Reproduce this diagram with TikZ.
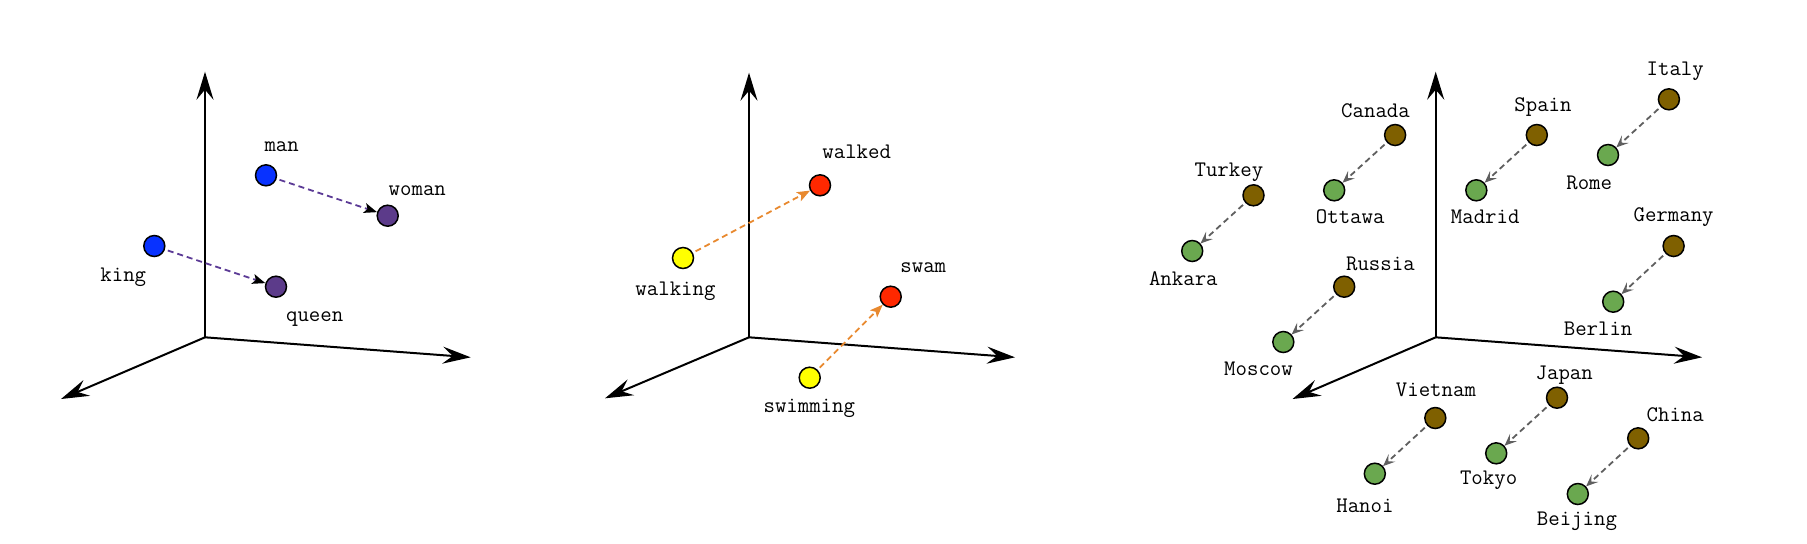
\documentclass[tikz,border=0pt]{standalone}
\usepackage{fontspec}
\usepackage{tikz}
\usetikzlibrary{arrows.meta}

\definecolor{kingblue}{RGB}{8,50,255}
\definecolor{queenpurple}{RGB}{92,59,138}
\definecolor{pairpurple}{RGB}{92,59,150}
\definecolor{pastred}{RGB}{255,40,0}
\definecolor{ingyellow}{RGB}{255,255,0}
\definecolor{tenseorange}{RGB}{232,137,47}
\definecolor{countrybrown}{RGB}{127,96,0}
\definecolor{capitalgreen}{RGB}{106,168,79}
\definecolor{capitalgray}{RGB}{95,95,95}

\begin{document}
\begin{tikzpicture}[
  x=0.5pt, y=-0.5pt,
  font=\ttfamily\fontsize{11.1}{13}\selectfont,
  axis/.style={-{Stealth[length=14pt, width=8.5pt, inset=5pt]}, line width=1pt},
  word/.style={circle, draw=black, line width=0.75pt, minimum size=10.5pt, inner sep=0pt},
  tag/.style={anchor=base, inner sep=0pt},
  offset/.style={-{Stealth[length=6.5pt, width=5pt, inset=1.5pt]}, line width=0.9pt,
                 dash pattern=on 3pt off 2pt, shorten <=1.5pt},
]
\useasboundingbox (0,0) rectangle (1807,543);

%% gender: man/woman, king/queen
\coordinate (o1) at (205,337.3);
\coordinate (up1) at (205,71.7);
\coordinate (right1) at (470.7,357.3);
\coordinate (left1) at (61,399);
\draw[axis] (o1) -- (up1);
\draw[axis] (o1) -- (right1);
\draw[axis] (o1) -- (left1);

\node[word, fill=kingblue] (man) at (266,175.3) {};
\node[word, fill=queenpurple] (woman) at (387.7,215.7) {};
\node[word, fill=kingblue] (king) at (154.3,246) {};
\node[word, fill=queenpurple] (queen) at (276,286.7) {};
\node[tag] (manlbl) at (281.7,151.7) {man};
\node[tag] (womanlbl) at (417.3,195) {woman};
\node[tag] (kinglbl) at (123.3,281.7) {king};
\node[tag] (queenlbl) at (314.7,321.7) {queen};
\draw[offset, pairpurple, -{Stealth[length=6.5pt, width=5pt, inset=1.5pt, black]}] (man) -- (woman);
\draw[offset, pairpurple, -{Stealth[length=6.5pt, width=5pt, inset=1.5pt, black]}] (king) -- (queen);

%% verb tense
\coordinate (o2) at (749,337.3);
\coordinate (up2) at (749,72.7);
\coordinate (right2) at (1015,357.3);
\coordinate (left2) at (605,398.3);
\draw[axis] (o2) -- (up2);
\draw[axis] (o2) -- (right2);
\draw[axis] (o2) -- (left2);

\node[word, fill=pastred] (walked) at (820,185.3) {};
\node[word, fill=ingyellow] (walking) at (683,258) {};
\node[word, fill=pastred] (swam) at (890.7,296.7) {};
\node[word, fill=ingyellow] (swimming) at (809.7,377.7) {};
\node[tag] (walkedlbl) at (856.7,158.3) {walked};
\node[tag] (walkinglbl) at (675.5,295) {walking};
\node[tag] (swamlbl) at (923.3,272.7) {swam};
\node[tag] (swimminglbl) at (809.3,412.7) {swimming};
\draw[offset, tenseorange] (walking) -- (walked);
\draw[offset, tenseorange] (swimming) -- (swam);

%% country - capital
\coordinate (o3) at (1435.7,337.3);
\coordinate (up3) at (1435.7,71.7);
\coordinate (right3) at (1702.1,357.3);
\coordinate (left3) at (1292.5,399);
\draw[axis] (o3) -- (up3);
\draw[axis] (o3) -- (right3);
\draw[axis] (o3) -- (left3);

\node[word, fill=countrybrown] (canada) at (1395.1,135) {};
\node[word, fill=capitalgreen] (ottawa) at (1334.2,190.3) {};
\node[word, fill=countrybrown] (turkey) at (1253.5,195.3) {};
\node[word, fill=capitalgreen] (ankara) at (1192.2,251) {};
\node[word, fill=countrybrown] (spain) at (1536.8,135) {};
\node[word, fill=capitalgreen] (madrid) at (1476.3,190.3) {};
\node[word, fill=countrybrown] (italy) at (1668.9,99.3) {};
\node[word, fill=capitalgreen] (rome) at (1608,155) {};
\node[word, fill=countrybrown] (germany) at (1673.6,246) {};
\node[word, fill=capitalgreen] (berlin) at (1613.2,301.7) {};
\node[word, fill=countrybrown] (russia) at (1344.2,286.7) {};
\node[word, fill=capitalgreen] (moscow) at (1283.3,342) {};
\node[word, fill=countrybrown] (vietnam) at (1435.3,418) {};
\node[word, fill=capitalgreen] (hanoi) at (1374.8,473.7) {};
\node[word, fill=countrybrown] (japan) at (1557,397.7) {};
\node[word, fill=capitalgreen] (tokyo) at (1496.2,453.3) {};
\node[word, fill=countrybrown] (china) at (1638.2,438.3) {};
\node[word, fill=capitalgreen] (beijing) at (1577.8,494) {};

\node[tag] (canadalbl) at (1375.5,117.7) {Canada};
\node[tag] (ottawalbl) at (1350.2,223.3) {Ottawa};
\node[tag] (turkeylbl) at (1228.9,176.7) {Turkey};
\node[tag] (ankaralbl) at (1183.3,285) {Ankara};
\node[tag] (spainlbl) at (1543,111) {Spain};
\node[tag] (madridlbl) at (1485.2,223.3) {Madrid};
\node[tag] (italylbl) at (1675.2,75) {Italy};
\node[tag] (romelbl) at (1589.2,189) {Rome};
\node[tag] (germanylbl) at (1673.6,221.7) {Germany};
\node[tag] (berlinlbl) at (1598.1,335.7) {Berlin};
\node[tag] (russialbl) at (1380.4,270) {Russia};
\node[tag] (moscowlbl) at (1258.5,375) {Moscow};
\node[tag] (vietnamlbl) at (1435.9,396) {Vietnam};
\node[tag] (hanoilbl) at (1364.9,512.7) {Hanoi};
\node[tag] (japanlbl) at (1564.2,379) {Japan};
\node[tag] (tokyolbl) at (1488.6,484.3) {Tokyo};
\node[tag] (chinalbl) at (1675.2,421.7) {China};
\node[tag] (beijinglbl) at (1576.9,525.7) {Beijing};

\foreach \country/\capital in {canada/ottawa, turkey/ankara, spain/madrid,
    italy/rome, germany/berlin, russia/moscow, vietnam/hanoi, japan/tokyo,
    china/beijing}
  \draw[offset, capitalgray, -{Stealth[length=6pt, width=5pt, inset=2.5pt]}]
    (\country) -- (\capital);

\end{tikzpicture}
\end{document}
